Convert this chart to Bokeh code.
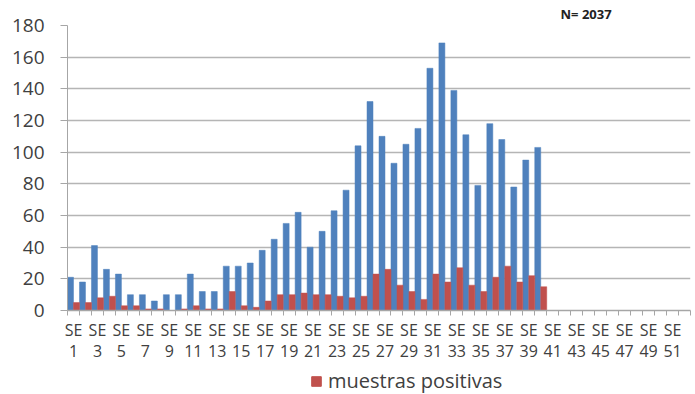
from bokeh.plotting import figure
from bokeh.layouts import column
from bokeh.models import (ColumnDataSource, FixedTicker, Legend, LegendItem,
                          Range1d)
from bokeh.transform import dodge
from bokeh.embed import file_html
from bokeh.resources import INLINE

# ---- data -------------------------------------------------------------
weeks = list(range(1, 41))          # epidemiological weeks with data
total_samples = [21, 18, 41, 26, 23, 10, 10, 6, 10, 10,
                 23, 12, 12, 28, 28, 30, 38, 45, 55, 62,
                 40, 50, 63, 76, 104, 132, 110, 93, 105, 115,
                 153, 169, 139, 111, 79, 118, 108, 78, 95, 103]
positive_samples = [5, 5, 8, 9, 3, 3, 1, 1, 0, 1,
                    3, 1, 1, 12, 3, 2, 6, 10, 10, 11,
                    10, 10, 9, 8, 9, 23, 26, 16, 12, 7,
                    23, 18, 27, 16, 12, 21, 28, 18, 22, 15]
tick_weeks = [1, 3, 5, 7, 9, 11, 13, 15, 17, 19, 21, 23, 25,
              27, 29, 31, 33, 35, 37, 39, 41, 43, 45, 47, 49, 51]
tick_labels = ["SE\n%d" % w for w in tick_weeks]
y_ticks = [0, 20, 40, 60, 80, 100, 120, 140, 160, 180]
n_label = "N= 2037"
legend_label = "muestras positivas"

FONT = "Open Sans"
BLUE = "#4F81BD"
RED = "#C0504D"
AXIS_GRAY = "#A6A6A6"
TEXT_GRAY = "#404040"

src = ColumnDataSource(dict(week=weeks, total=total_samples,
                            positive=positive_samples))

p = figure(width=695, height=366,
           output_backend="svg", toolbar_location=None,
           x_range=Range1d(0.5, 52.5), y_range=Range1d(0, 180),
           min_border_left=67, min_border_right=5, min_border_top=23,
           min_border_bottom=56, title=n_label)
p.outline_line_color = None
p.background_fill_color = "white"
p.title.align = "left"
p.title.offset = 493
p.title.standoff = 5
p.title.text_font = FONT
p.title.text_font_style = "bold"
p.title.text_font_size = "13px"
p.title.text_color = "#222222"

p.vbar(x=dodge("week", -0.25, range=p.x_range), top="total", width=0.5,
       source=src, fill_color=BLUE, line_color=BLUE, line_width=0.5)
p.vbar(x=dodge("week", 0.25, range=p.x_range), top="positive", width=0.5,
       source=src, fill_color=RED, line_color=RED, line_width=0.5)

# y axis
p.yaxis.ticker = FixedTicker(ticks=y_ticks)
p.yaxis.major_label_text_font = FONT
p.yaxis.major_label_text_font_size = "19px"
p.yaxis.major_label_text_color = TEXT_GRAY
p.yaxis.axis_line_color = AXIS_GRAY
p.yaxis.major_tick_line_color = AXIS_GRAY
p.yaxis.major_tick_out = 7
p.yaxis.major_tick_in = 0
p.yaxis.minor_tick_line_color = None
p.yaxis.major_label_standoff = 16

p.ygrid.ticker = FixedTicker(ticks=y_ticks)
p.ygrid.grid_line_color = "#B5B5B5"
p.ygrid.grid_line_width = 1.5
p.xgrid.grid_line_color = None

# x axis
boundaries = [w - 0.5 for w in range(1, 54)]
p.xaxis.ticker = FixedTicker(ticks=tick_weeks, minor_ticks=boundaries)
p.xaxis.major_label_overrides = dict(zip(tick_weeks, tick_labels))
p.xaxis.major_tick_line_color = None
p.xaxis.minor_tick_line_color = AXIS_GRAY
p.xaxis.minor_tick_out = 5
p.xaxis.minor_tick_in = 0
p.xaxis.axis_line_color = AXIS_GRAY
p.xaxis.axis_line_width = 1.5
p.xaxis.major_label_text_font = FONT
p.xaxis.major_label_text_font_size = "16px"
p.xaxis.major_label_text_color = TEXT_GRAY
p.xaxis.major_label_text_line_height = 0.97
p.xaxis.major_label_standoff = 2

# ---- legend strip ------------------------------------------------------
leg = figure(width=695, height=28, output_backend="svg", toolbar_location=None,
             x_range=Range1d(0, 1), y_range=Range1d(0, 1),
             x_axis_type=None, y_axis_type=None,
             min_border_left=0, min_border_right=0, min_border_top=0,
             min_border_bottom=0)
leg.outline_line_color = None
leg.border_fill_color = "white"
leg.background_fill_color = "white"
leg.grid.visible = False
# a single bar far below the visible range, only so the legend has a swatch
swatch = leg.vbar(x=[0.5], top=[-50], bottom=[-60], width=0.1,
                  fill_color=RED, line_color=RED)
legend = Legend(items=[LegendItem(label=legend_label, renderers=[swatch])],
                orientation="horizontal", location=(243, 0),
                border_line_color=None, background_fill_alpha=0,
                label_text_font=FONT, label_text_font_size="20px",
                label_text_color=TEXT_GRAY,
                glyph_width=12, glyph_height=12, padding=2, margin=0,
                label_standoff=6)
leg.add_layout(legend, "center")

layout = column(p, leg, spacing=0)
open("out.html", "w").write(file_html(layout, INLINE))
